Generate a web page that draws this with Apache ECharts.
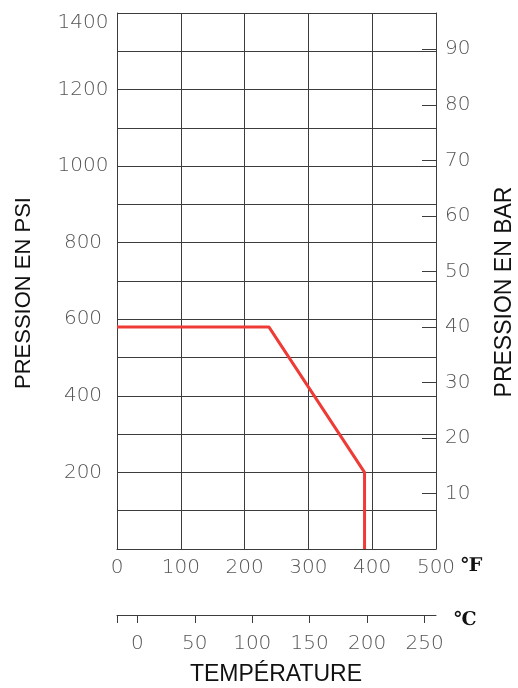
<!DOCTYPE html>
<html>
<head>
<meta charset="utf-8">
<script src="https://cdn.jsdelivr.net/npm/echarts@6/dist/echarts.min.js"></script>
<style>
html,body{margin:0;padding:0;background:#fff;}
#chart{width:518px;height:688px;}
</style>
</head>
<body>
<div id="chart"></div>
<script>
// Data
var tempF = [0, 238, 388, 388];
var pressurePsi = [580, 580, 200, 0];
// Tick labels
var psiLabels = [200, 400, 600, 800, 1000, 1200, 1400];
var barLabels = [10, 20, 30, 40, 50, 60, 70, 80, 90];
var fLabels = [0, 100, 200, 300, 400, 500];
var cLabels = [0, 50, 100, 150, 200, 250];

var PSI_PER_BAR = 14.5038;
var psiMax = 1400;
var fMin = 0, fMax = 500;
var cMin = (fMin - 32) * 5 / 9, cMax = (fMax - 32) * 5 / 9;

function plain(v) { return String(Math.round(v)); }

var labelFont = {color: '#555', fontFamily: 'DejaVu Sans', fontWeight: 200, fontSize: 20, formatter: plain};
var titleFont = {color: '#111', fontFamily: 'Liberation Sans', fontSize: 23};
var gridColor = '#3c3c3c';

var chart = echarts.init(document.getElementById('chart'));
chart.setOption({
  animation: false,
  backgroundColor: '#fff',
  grid: {left: 117, right: 82, top: 13, bottom: 139, containLabel: false, outerBoundsMode: 'none'},
  title: {
    text: 'TEMPÉRATURE',
    left: 276, top: 663, textAlign: 'center',
    textStyle: Object.assign({}, titleFont, {fontWeight: 'normal'}),
    padding: 0
  },
  xAxis: [{
    type: 'value', min: fMin, max: fMax, interval: 100, position: 'bottom',
    axisLine: {show: true, onZero: false, lineStyle: {color: gridColor, width: 1}},
    axisTick: {show: false},
    axisLabel: Object.assign({margin: 9, customValues: fLabels}, labelFont),
    splitLine: {show: true, lineStyle: {color: gridColor, width: 1}},
    name: '℉', nameLocation: 'end', nameGap: 20,
    nameTextStyle: {color: '#111', fontFamily: 'DejaVu Serif', fontWeight: 'bold', fontSize: 19, verticalAlign: 'top', padding: [8, 0, 0, 0]}
  }, {
    type: 'value', min: cMin, max: cMax, position: 'bottom', offset: 66,
    axisLine: {show: true, onZero: false, lineStyle: {color: gridColor, width: 1}},
    axisTick: {show: true, inside: false, length: 8, lineStyle: {color: gridColor}, customValues: [cMin].concat(cLabels)},
    axisLabel: Object.assign({margin: 19, customValues: cLabels}, labelFont),
    splitLine: {show: false},
    name: '℃', nameLocation: 'end', nameGap: 18,
    nameTextStyle: {color: '#111', fontFamily: 'DejaVu Serif', fontWeight: 'bold', fontSize: 19, verticalAlign: 'top', padding: [-4, 0, 0, 0]}
  }],
  yAxis: [{
    type: 'value', min: 0, max: psiMax, interval: 100, position: 'left',
    axisLine: {show: true, onZero: false, lineStyle: {color: gridColor, width: 1}},
    axisTick: {show: false},
    axisLabel: Object.assign({margin: 34, align: 'center', customValues: psiLabels, verticalAlignMaxLabel: 'top'}, labelFont),
    splitLine: {show: true, lineStyle: {color: gridColor, width: 1}},
    name: 'PRESSION EN PSI', nameLocation: 'middle', nameGap: 82,
    nameTextStyle: Object.assign({}, titleFont, {fontSize: 22, padding: [0, 24, 0, 0]})
  }, {
    type: 'value', min: 0, max: psiMax / PSI_PER_BAR, interval: 10, position: 'right',
    axisLine: {show: true, onZero: false, lineStyle: {color: gridColor, width: 1}},
    axisTick: {show: false},
    axisLabel: Object.assign({margin: 9, customValues: barLabels}, labelFont),
    splitLine: {show: false},
    name: 'PRESSION EN BAR', nameLocation: 'middle', nameGap: 57,
    nameTextStyle: Object.assign({}, titleFont, {padding: [0, 22, 0, 0]})
  }, {
    // tick marks of the bar scale, drawn just inside the right border
    type: 'value', min: 0, max: psiMax / PSI_PER_BAR, interval: 10, position: 'right', offset: -14,
    axisLine: {show: false, onZero: false},
    axisTick: {show: true, inside: false, length: 14, lineStyle: {color: gridColor}, customValues: barLabels},
    axisLabel: {show: false},
    splitLine: {show: false}
  }],
  series: [{
    type: 'line',
    xAxisIndex: 0, yAxisIndex: 0,
    data: tempF.map(function (t, i) { return [t, pressurePsi[i]]; }),
    symbol: 'none',
    lineStyle: {color: '#ee3b36', width: 3},
    z: 5
  }]
});
</script>
</body>
</html>
